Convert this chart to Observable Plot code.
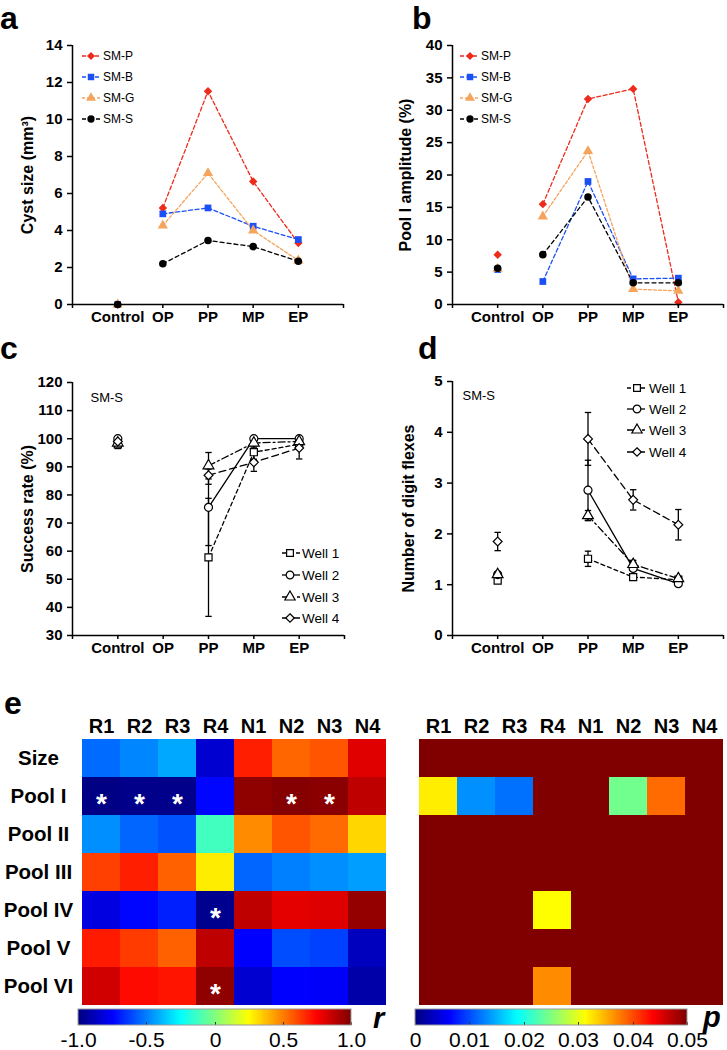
<!DOCTYPE html>
<html><head><meta charset="utf-8">
<script src="https://cdn.jsdelivr.net/npm/d3@7"></script>
<script src="https://cdn.jsdelivr.net/npm/@observablehq/plot@0.6"></script>
<style>
body{margin:0;background:#fff;}
#fig{position:relative;width:727px;height:1050px;overflow:hidden;background:#fff;}
#fig > *{position:absolute;}
</style></head><body><div id="fig"></div>
<script>
// ---------------- data ----------------
const stages = ["Control","OP","PP","MP","EP"];

const smSeries = ["SM-P","SM-B","SM-G","SM-S"];
const smColors = ["#ee2a1b","#1b50f5","#f5a45c","#000000"];
const smSymbols = ["diamond2","square","triangle","circle"];
const smDash = ["4,2.5","4,2.5","3,2","4,3"];

// panel a: cyst size (mm3)
const cystP = [0, 5.22, 11.53, 6.65, 3.32];
const cystB = [0, 4.90, 5.22, 4.23, 3.51];
const cystG = [0, 4.27, 7.10, 4.00, 2.38];
const cystS = [0, 2.20, 3.46, 3.13, 2.34];
// panel b: pool I amplitude (%)
const poolP = [7.67, 15.5, 31.75, 33.3, 0.36];
const poolB = [5.40, 3.55, 19.0, 3.96, 4.07];
const poolG = [5.50, 13.6, 23.7, 2.37, 2.10];
const poolS = [5.60, 7.70, 16.6, 3.35, 3.35];

const wells = ["Well 1","Well 2","Well 3","Well 4"];
const wellSymbols = ["square","circle","triangle","diamond2"];
const wellDash = ["4,3", null, "7,3,2,3", "7,4"];
// panel c: success rate (%) (null = not tested)
const succ1 = [98.0, null, 57.8, 95.2, 98.0];
const succ1Err = [1.5, null, 21.0, 2.5, 1.5];
const succ2 = [100, null, 75.6, 100, 100];
const succ2Err = [0.5, null, 13.6, 0, 0];
const succ3 = [98.5, null, 90.4, 98.5, 99.0];
const succ3Err = [1.5, null, 4.7, 1.5, 1.0];
const succ4 = [99.0, null, 87.0, 91.6, 96.7];
const succ4Err = [1.0, null, 3.2, 3.2, 3.9];
// panel d: number of digit flexes
const flex1 = [1.08, null, 1.51, 1.15, 1.10];
const flex1Err = [0.05, null, 0.15, 0.04, 0.04];
const flex2 = [1.20, null, 2.86, 1.32, 1.02];
const flex2Err = [0.05, null, 0.59, 0.12, 0.03];
const flex3 = [1.20, null, 2.36, 1.40, 1.12];
const flex3Err = [0.05, null, 0.10, 0.08, 0.04];
const flex4 = [1.85, null, 3.87, 2.67, 2.18];
const flex4Err = [0.18, null, 0.52, 0.20, 0.30];

// panel e: correlation r and p
const heatCols = ["R1","R2","R3","R4","N1","N2","N3","N4"];
const heatRows = ["Size","Pool I","Pool II","Pool III","Pool IV","Pool V","Pool VI"];
const rSize    = [-0.54,-0.485,-0.42,-0.84, 0.69, 0.55, 0.585, 0.81];
const rPoolI   = [-0.99,-0.98,-0.98,-0.74, 0.97, 0.99, 0.98, 0.875];
const rPoolII  = [-0.47,-0.55,-0.59,-0.125, 0.475, 0.585, 0.54, 0.33];
const rPoolIII = [0.625, 0.69, 0.56, 0.285,-0.55,-0.50,-0.47,-0.44];
const rPoolIV  = [-0.81,-0.74,-0.69,-0.97, 0.875, 0.80, 0.815, 0.96];
const rPoolV   = [0.70, 0.635, 0.56, 0.875,-0.75,-0.60,-0.625,-0.875];
const rPoolVI  = [0.84, 0.73, 0.71, 0.97,-0.84,-0.75,-0.76,-0.92];
// p values; 0.05 stands for p >= 0.05
const pSize    = [0.05,0.05,0.05,0.05,0.05,0.05,0.05,0.05];
const pPoolI   = [0.0321,0.0133,0.0118,0.05,0.05,0.0243,0.0385,0.05];
const pPoolII  = [0.05,0.05,0.05,0.05,0.05,0.05,0.05,0.05];
const pPoolIII = [0.05,0.05,0.05,0.05,0.05,0.05,0.05,0.05];
const pPoolIV  = [0.05,0.05,0.05,0.03125,0.05,0.05,0.05,0.05];
const pPoolV   = [0.05,0.05,0.05,0.05,0.05,0.05,0.05,0.05];
const pPoolVI  = [0.05,0.05,0.05,0.0369,0.05,0.05,0.05,0.05];
const rTicks = [-1,-0.5,0,0.5,1];
const pTicks = [0,0.01,0.02,0.03,0.04,0.05];

// ---------------- helpers ----------------
const FONT = '"Liberation Sans", Arial, Helvetica, sans-serif';
const fig = document.getElementById("fig");
function place(el, left, top){ el.style.position="absolute"; el.style.left=left+"px"; el.style.top=top+"px"; fig.appendChild(el); return el; }
function jet(t){
  const c = v => Math.max(0, Math.min(1, v));
  return d3.rgb(255*c(1.5-Math.abs(4*t-3)), 255*c(1.5-Math.abs(4*t-2)), 255*c(1.5-Math.abs(4*t-1))).formatHex();
}
const capSymbol = {draw(ctx, size){ const w = Math.sqrt(size/Math.PI); ctx.moveTo(-w,0); ctx.lineTo(w,0); }};

function stagePanel({width, height, mL, mR, mT, mB, yDomain, yTicks, yLabel, labelDx, marks}){
  return Plot.plot({
    width, height, marginLeft:mL, marginRight:mR, marginTop:mT, marginBottom:mB,
    x:{domain:[0,6]}, y:{domain:yDomain},
    style:{fontFamily:FONT, fontSize:"15px", fontWeight:"bold", color:"#000", background:"transparent", overflow:"visible"},
    marks:[
      ...marks,
      Plot.ruleX([0], {stroke:"#000", strokeWidth:1.5}),
      Plot.ruleY([yDomain[0]], {stroke:"#000", strokeWidth:1.5}),
      Plot.axisY({ticks:yTicks, tickSize:5, tickPadding:5, tickFormat:d=>String(d), label:null, strokeWidth:1.5}),
      Plot.axisX({ticks:[0,1,2,3,4,5,6], tickSize:4, tickPadding:3, tickFormat:d=>stages[d-1] ?? "", label:null, strokeWidth:1.5}),
      Plot.text([yLabel], {text:d=>d, frameAnchor:"left", dx:labelDx, rotate:-90, textAnchor:"middle", lineAnchor:"middle", fontSize:16, fontWeight:"bold"})
    ]
  });
}
function addLegend(svg, items, {x0, x1, xm, xt, ys, fontSize}){
  const g = d3.select(svg).append("g").attr("font-family", FONT).attr("font-size", fontSize)
    .attr("font-weight","normal").attr("text-anchor","start");
  items.forEach((it,i)=>{
    const y = ys[i];
    g.append("line").attr("x1",x0).attr("x2",x1).attr("y1",y).attr("y2",y)
      .attr("stroke",it.color).attr("stroke-width",1.3).attr("stroke-dasharray", it.dash);
    g.append("path").attr("d", d3.symbol(it.symbol, it.size)()).attr("transform",`translate(${xm},${y})`)
      .attr("fill", it.fill).attr("stroke", it.stroke).attr("stroke-width", 1.2);
    g.append("text").attr("x",xt).attr("y",y).attr("dy","0.35em").attr("fill","#000")
      .attr("text-anchor","start").style("font-size", fontSize+"px").style("font-weight","normal").text(it.label);
  });
}
const d3Sym = {diamond2:d3.symbolDiamond2, square:d3.symbolSquare, triangle:d3.symbolTriangle, circle:d3.symbolCircle};

// ---------------- panels a & b ----------------
function smRows(arrs){ return smSeries.flatMap((s,k)=>arrs[k].map((v,i)=>({series:s, k, x:i+1, v}))); }
function smMarks(rows){
  return [
    ...smSeries.map((s,k)=>Plot.line(rows.filter(d=>d.k===k && d.x>=2), {x:"x", y:"v", stroke:smColors[k], strokeWidth:1.3, strokeDasharray:smDash[k]})),
    Plot.dot(rows, {x:"x", y:"v", fill:d=>smColors[d.k], symbol:d=>smSymbols[d.k], r:3.8})
  ];
}
const smLegendItems = smSeries.map((s,k)=>({label:s, color:smColors[k], dash:smDash[k], symbol:d3Sym[smSymbols[k]], size:42, fill:smColors[k], stroke:"none"}));

const rowsA = smRows([cystP, cystB, cystG, cystS]);
const plotA = stagePanel({width:360, height:330, mL:72, mR:17, mT:45, mB:26, yDomain:[0,14], yTicks:d3.range(0,15,2),
  yLabel:"Cyst size (mm³)", labelDx:-45, marks:smMarks(rowsA)});
addLegend(plotA, smLegendItems, {x0:82, x1:100, xm:91, xt:103, ys:[56,77,98,119], fontSize:12});
place(plotA, 0, 0);

const rowsB = smRows([poolP, poolB, poolG, poolS]);
const plotB = stagePanel({width:367, height:330, mL:92, mR:4, mT:45, mB:26, yDomain:[0,40], yTicks:d3.range(0,41,5),
  yLabel:"Pool I amplitude (%)", labelDx:-47, marks:smMarks(rowsB)});
addLegend(plotB, smLegendItems, {x0:100, x1:118, xm:110, xt:121, ys:[56,77,98,119], fontSize:12});
place(plotB, 360, 0);

// ---------------- panels c & d ----------------
function wellRows(vals, errs){
  return wells.flatMap((w,k)=>vals[k].map((v,i)=>({well:w, k, x:i+1, v, e:errs[k][i]}))).filter(d=>d.v!=null);
}
function wellMarks(rows){
  const withErr = rows.filter(d=>d.e>0);
  return [
    ...wells.map((w,k)=>Plot.line(rows.filter(d=>d.k===k && d.x>=3), {x:"x", y:"v", stroke:"#000", strokeWidth:1.3, strokeDasharray:wellDash[k]})),
    Plot.ruleX(withErr, {x:"x", y1:d=>d.v-d.e, y2:d=>d.v+d.e, stroke:"#000", strokeWidth:1.3}),
    Plot.dot(withErr, {x:"x", y:d=>d.v+d.e, symbol:capSymbol, r:3.2, stroke:"#000", strokeWidth:1.3}),
    Plot.dot(withErr, {x:"x", y:d=>d.v-d.e, symbol:capSymbol, r:3.2, stroke:"#000", strokeWidth:1.3}),
    Plot.dot(rows, {x:"x", y:"v", symbol:d=>wellSymbols[d.k], r:4, fill:"#fff", stroke:"#000", strokeWidth:1.2})
  ];
}
const wellLegendItems = wells.map((w,k)=>({label:w, color:"#000", dash:wellDash[k], symbol:d3Sym[wellSymbols[k]], size:46, fill:"#fff", stroke:"#000"}));

const rowsC = wellRows([succ1,succ2,succ3,succ4],[succ1Err,succ2Err,succ3Err,succ4Err]);
const plotC = stagePanel({width:360, height:330, mL:72, mR:16, mT:52, mB:25, yDomain:[30,120], yTicks:d3.range(30,121,10),
  yLabel:"Success rate (%)", labelDx:-45,
  marks:[...wellMarks(rowsC), Plot.text(["SM-S"], {text:d=>d, frameAnchor:"top-left", dx:18, dy:10, textAnchor:"start", fontSize:13, fontWeight:"normal"})]});
addLegend(plotC, wellLegendItems, {x0:282, x1:300, xm:290, xt:302, ys:[223,245,267,288], fontSize:13.5});
place(plotC, 0, 330);

const rowsD = wellRows([flex1,flex2,flex3,flex4],[flex1Err,flex2Err,flex3Err,flex4Err]);
const plotD = stagePanel({width:367, height:330, mL:92, mR:4, mT:51, mB:25, yDomain:[0,5], yTicks:d3.range(0,6,1),
  yLabel:"Number of digit flexes", labelDx:-44,
  marks:[...wellMarks(rowsD), Plot.text(["SM-S"], {text:d=>d, frameAnchor:"top-left", dx:10, dy:9, textAnchor:"start", fontSize:13, fontWeight:"normal"})]});
addLegend(plotD, wellLegendItems, {x0:267, x1:285, xm:277, xt:289, ys:[58,79,100,122], fontSize:13.5});
place(plotD, 360, 330);

// ---------------- panel e ----------------
const rMatrix = [rSize, rPoolI, rPoolII, rPoolIII, rPoolIV, rPoolV, rPoolVI];
const pMatrix = [pSize, pPoolI, pPoolII, pPoolIII, pPoolIV, pPoolV, pPoolVI];
const cells = heatRows.flatMap((row,i)=>heatCols.map((col,j)=>({row, col, r:rMatrix[i][j], p:pMatrix[i][j]})));
const sigCells = cells.filter(d=>d.p<0.05);

function heatmap({width, mL, value, domain, showRows, stars}){
  return Plot.plot({
    width, height:318, marginLeft:mL, marginRight:1, marginTop:46, marginBottom:1,
    x:{domain:heatCols, padding:0, axis:null}, y:{domain:heatRows, padding:0, axis:null},
    color:{type:"linear", domain, interpolate:jet, clamp:true},
    style:{fontFamily:FONT, fontSize:"20px", fontWeight:"bold", color:"#000", background:"transparent", overflow:"visible"},
    marks:[
      Plot.cell(cells, {x:"col", y:"row", fill:value, inset:0, shapeRendering:"crispEdges"}),
      ...(stars ? [Plot.text(sigCells, {x:"col", y:"row", text:()=>"*", fill:"#fff", fontSize:28, fontWeight:"bold", dy:8})] : []),
      Plot.axisX({anchor:"top", tickSize:0, tickPadding:4, label:null, fontSize:20, fontWeight:"bold"}),
      ...(showRows ? [Plot.axisY({tickSize:0, tickPadding:40, textAnchor:"middle", label:null, fontSize:20.5, fontWeight:"bold"})] : [])
    ]
  });
}
place(heatmap({width:390, mL:78, value:"r", domain:[-1,1], showRows:true, stars:true}), 0, 690);
place(heatmap({width:337, mL:25, value:"p", domain:[0,0.05], showRows:false, stars:false}), 390, 690);

function colorbar({domain, ticks, fmt, width, mL, mR}){
  const leg = Plot.legend({color:{type:"linear", domain, interpolate:jet}, width, height:42, marginLeft:mL, marginRight:mR,
    marginTop:0, marginBottom:26, tickSize:0, ticks, tickFormat:fmt, label:null,
    style:{fontFamily:FONT, fontSize:"21px", color:"#000", background:"transparent", overflow:"visible"}});
  const s = d3.select(leg);
  s.selectAll("g").attr("font-size", null).attr("font-family", null);
  s.selectAll("text").attr("y", 7).style("font-size","21px").style("font-family",FONT).style("font-weight","normal").attr("fill","#000");
  s.selectAll(".tick line").attr("y1", -3).attr("y2", 0).attr("stroke", "#333");
  s.append("rect").attr("x", mL).attr("y", 0).attr("width", width-mL-mR).attr("height", 16)
    .attr("fill","none").attr("stroke","#9a9a9a").attr("stroke-width",1);
  return leg;
}
place(colorbar({domain:[-1,1], ticks:rTicks, fmt:d=>d===0?"0":d.toFixed(1), width:390, mL:78, mR:39}), 0, 1009);
place(colorbar({domain:[0,0.05], ticks:pTicks, fmt:d=>d===0?"0":d.toFixed(2), width:337, mL:25, mR:40}), 390, 1009);

// ---------------- panel letters & scale symbols ----------------
const ov = d3.create("svg").attr("width",727).attr("height",1050).style("pointer-events","none")
  .attr("font-family", FONT).attr("font-weight","bold");
[["a",0,29],["b",412,29],["c",0,359],["d",418,359],["e",4,714]].forEach(([t,x,y])=>
  ov.append("text").attr("x",x).attr("y",y).attr("font-size",32).attr("fill","#000").text(t));
ov.append("text").attr("x",373).attr("y",1028).attr("font-size",29).attr("font-style","italic").attr("fill","#000").text("r");
ov.append("text").attr("x",703).attr("y",1027).attr("font-size",29).attr("font-style","italic").attr("fill","#000").text("p");
place(ov.node(), 0, 0);
</script></body></html>
